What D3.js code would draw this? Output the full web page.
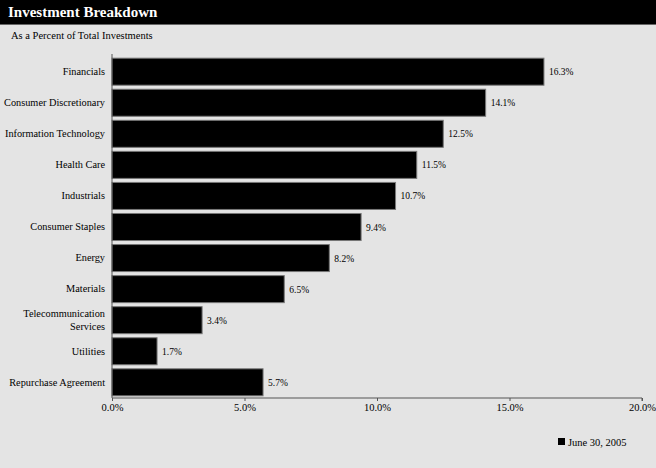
<!DOCTYPE html>
<html><head><meta charset="utf-8">
<script src="https://cdn.jsdelivr.net/npm/d3@7"></script>
<style>
html,body{margin:0;padding:0;background:#e4e4e4;}
svg, svg text{font-family:"Liberation Serif","Times New Roman",serif !important;}
</style></head>
<body><svg id="c" width="656" height="468"></svg>
<script>
const categories = ["Financials","Consumer Discretionary","Information Technology","Health Care","Industrials","Consumer Staples","Energy","Materials","Telecommunication Services","Utilities","Repurchase Agreement"];
const values = [16.3,14.1,12.5,11.5,10.7,9.4,8.2,6.5,3.4,1.7,5.7];
const xTicks = [0,5,10,15,20];
const seriesName = "June 30, 2005";
const title = "Investment Breakdown";
const subtitle = "As a Percent of Total Investments";

const svg = d3.select("#c");
const W = 656, H = 468;
svg.append("rect").attr("width",W).attr("height",H).attr("fill","#e4e4e4");
svg.append("rect").attr("width",W).attr("height",24).attr("fill","#000");
svg.append("line").attr("x1",0).attr("x2",W).attr("y1",24.5).attr("y2",24.5).attr("stroke","#666");
svg.append("text").attr("x",8).attr("y",17).attr("fill","#fff").attr("font-weight","bold").attr("font-size",15).text(title);
svg.append("text").attr("x",11).attr("y",39).attr("fill","#000").attr("font-size",10.5).text(subtitle);

const x = d3.scaleLinear().domain([0,20]).range([112,642]);
const y = d3.scaleBand().domain(categories).range([56,398]).paddingInner(0.13).paddingOuter(0.07);

svg.append("g").selectAll("rect").data(values).join("rect")
  .attr("x",x(0)).attr("y",(d,i)=>y(categories[i]))
  .attr("width",d=>x(d)-x(0)).attr("height",y.bandwidth())
  .attr("fill","#000").attr("stroke","#777").attr("stroke-width",1);

svg.append("g").selectAll("text").data(values).join("text")
  .attr("x",d=>x(d)+5).attr("y",(d,i)=>y(categories[i])+y.bandwidth()/2+3.5)
  .attr("font-size",9.5).attr("fill","#000").text(d=>d.toFixed(1)+"%");

// y axis
const ya = svg.append("g").attr("transform",`translate(${x(0)},0)`)
  .call(d3.axisLeft(y).tickSize(0).tickPadding(7));
ya.attr("font-family",null).attr("font-size",10.3);
ya.select(".domain").attr("stroke","#555").attr("d",`M0,54V398`);
ya.selectAll("text").attr("fill","#000")
  .each(function(d){
    const t = d3.select(this);
    if(d==="Telecommunication Services"){
      t.text(null);
      t.append("tspan").attr("x",-7).attr("dy","-0.35em").text("Telecommunication");
      t.append("tspan").attr("x",-7).attr("dy","1.3em").text("Services");
    }
  });

// x axis
const xa = svg.append("g").attr("transform","translate(0,398)")
  .call(d3.axisBottom(x).tickValues(xTicks).tickFormat(d=>d.toFixed(1)+"%").tickSize(3).tickPadding(3));
xa.attr("font-family",null).attr("font-size",10.5);
xa.select(".domain").attr("stroke","#555").attr("d","M112,0H642V3");
xa.selectAll(".tick line").attr("stroke","#555");
xa.selectAll("text").attr("fill","#000");

// legend
const lg = svg.append("g").attr("transform","translate(558,438)");
lg.append("rect").attr("x",0).attr("y",0).attr("width",7).attr("height",7).attr("fill","#000");
lg.append("text").attr("x",10).attr("y",7.5).attr("font-size",10.5).attr("fill","#000").text(seriesName);
</script></body></html>
